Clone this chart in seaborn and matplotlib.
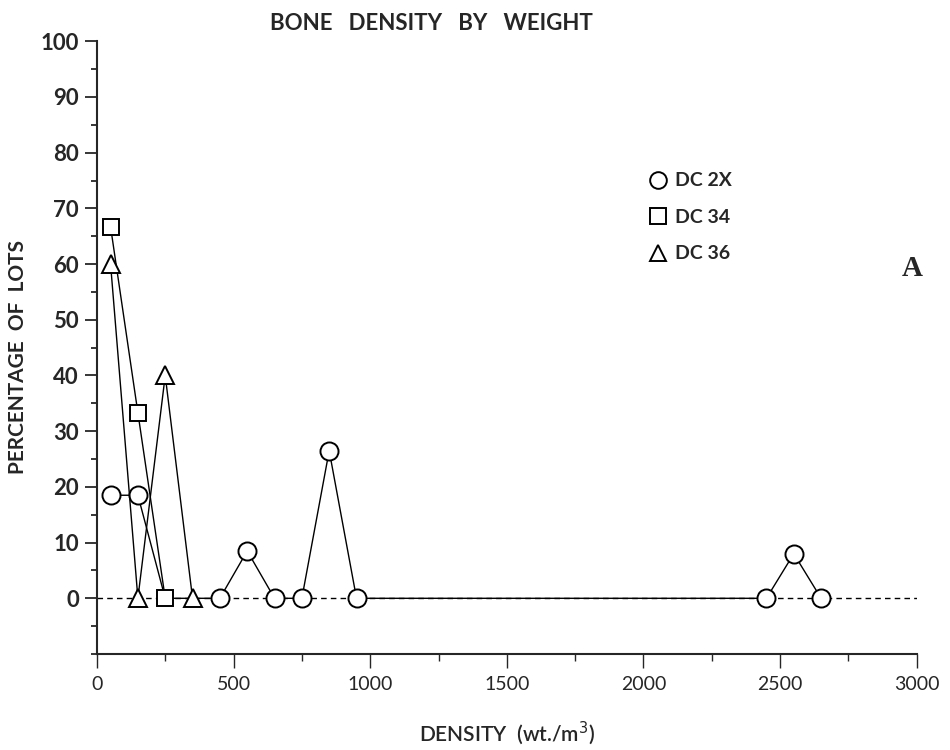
import pandas as pd
import seaborn as sns
import matplotlib.pyplot as plt
from matplotlib.lines import Line2D
from matplotlib.ticker import MultipleLocator

# --- DATI ---
densita_2x = [50, 150, 250, 350, 450, 550, 650, 750, 850, 950, 2450, 2550, 2650]
perc_2x = [18.5, 18.5, 0, 0, 0, 8.5, 0, 0, 26.5, 0, 0, 8, 0]
# 250 e 350 sono coperti dai marker di DC 34 / DC 36
marker_2x = [0, 1, 4, 5, 6, 7, 8, 9, 10, 11, 12]

densita_34 = [50, 150, 250]
perc_34 = [66.7, 33.3, 0]

densita_36 = [50, 150, 250, 350]
perc_36 = [60, 0, 40, 0]

linea_zero_x = [0, 3000]
linea_zero_y = [0, 0]

etichette = ['DC 2X', 'DC 34', 'DC 36']

# --- STILE ---
sns.set_style('ticks')
plt.rcParams['font.family'] = ['Lato', 'DejaVu Sans']
plt.rcParams['axes.linewidth'] = 1.5

fig = plt.figure(figsize=(9.5, 7.5), dpi=100)
ax = fig.add_axes([0.102, 0.128, 0.863, 0.817])

# linea dello zero tratteggiata
sns.lineplot(x=linea_zero_x, y=linea_zero_y, ax=ax, color='black', lw=1.0,
             linestyle=(0, (4, 3)), zorder=1)

stile = dict(color='black', lw=1.0, markerfacecolor='white', markeredgecolor='black',
             markeredgewidth=1.4, clip_on=False, zorder=3)

sns.lineplot(x=densita_2x, y=perc_2x, ax=ax, marker='o', markersize=13,
             markevery=marker_2x, sort=False, **stile)
sns.lineplot(x=densita_34, y=perc_34, ax=ax, marker='s', markersize=11.5, sort=False, **stile)
sns.lineplot(x=densita_36, y=perc_36, ax=ax, marker='^', markersize=13, sort=False, **stile)

# --- ASSI ---
ax.set_xlim(0, 3000)
ax.set_ylim(-10, 100)
sns.despine(ax=ax)
ax.set_xticks(range(0, 3001, 500))
ax.xaxis.set_minor_locator(MultipleLocator(250))
ax.set_yticks(range(0, 101, 10))
ax.yaxis.set_minor_locator(MultipleLocator(5))
ax.tick_params(axis='y', which='major', length=9, width=1.3, labelsize=16, pad=4)
ax.tick_params(axis='y', which='minor', length=4, width=1.3)
ax.tick_params(axis='x', which='major', length=10, width=1.0, labelsize=14, pad=6)
ax.tick_params(axis='x', which='minor', length=5, width=1.0)
for t in ax.get_yticklabels():
    t.set_fontweight('bold')

ax.set_xlabel('DENSITY  (wt./m$^3$)', fontsize=15, fontweight='semibold')
ax.set_ylabel('PERCENTAGE  OF  LOTS', fontsize=15, fontweight='bold')
ax.yaxis.set_label_coords(-0.084, 0.485)
ax.xaxis.set_label_coords(0.5, -0.106)

fig.text(0.454, 0.969, 'BONE   DENSITY   BY   WEIGHT', ha='center', va='center',
         fontsize=16, fontweight='bold')
fig.text(0.96, 0.642, 'A', ha='center', va='center', fontsize=21,
         family=['Liberation Serif'], fontweight='bold')

# --- LEGENDA ---
forme = ['o', 's', '^']
dimensioni = [12, 11, 12]
maniglie = [Line2D([], [], linestyle='none', marker=m, markersize=d, markerfacecolor='white',
                   markeredgecolor='black', markeredgewidth=1.4)
            for m, d in zip(forme, dimensioni)]
leg = ax.legend(maniglie, etichette, loc='upper left', bbox_to_anchor=(0.672, 0.783),
                bbox_transform=fig.transFigure, frameon=False, handlelength=1.0,
                handletextpad=0.4, labelspacing=1.0, borderpad=0,
                prop={'size': 14, 'weight': 'bold'})

fig.savefig('out.png', dpi=100)
plt.close(fig)
